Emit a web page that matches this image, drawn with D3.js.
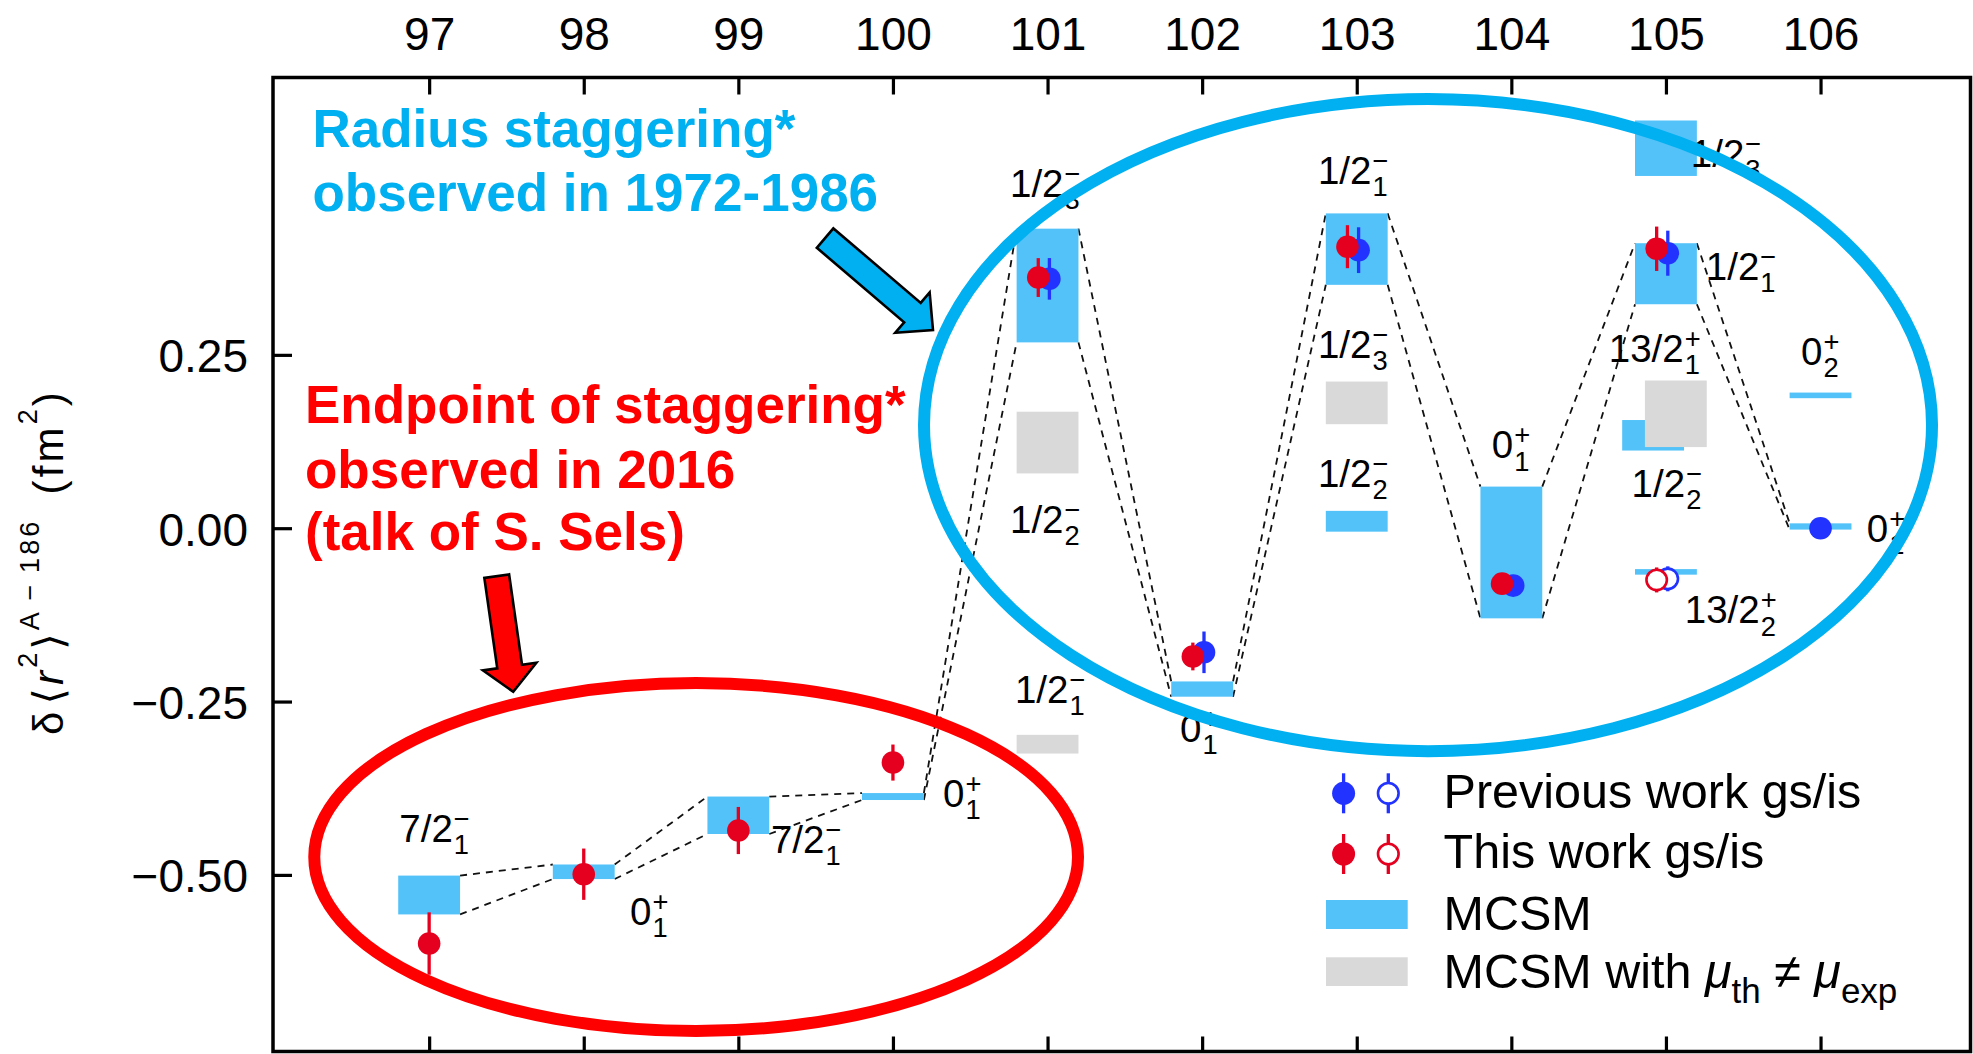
<!DOCTYPE html>
<html>
<head>
<meta charset="utf-8">
<script src="https://cdnjs.cloudflare.com/ajax/libs/d3/7.8.5/d3.min.js"></script>
<style>
  html, body { margin: 0; padding: 0; background: #fff; }
  svg { display: block; }
  text { font-family: "Liberation Sans", Arial, Helvetica, sans-serif; fill: #000; }
</style>
</head>
<body>
<svg id="chart" width="1973" height="1054"></svg>
<script>
// ---- data -------------------------------------------------------------
// neutron numbers on the top axis, and the radius-change ticks on the left axis
const neutronTicks = [97, 98, 99, 100, 101, 102, 103, 104, 105, 106];
const radiusTicks = [-0.5, -0.25, 0, 0.25];

// MCSM states forming the staggering chain (linked by dashed lines)
const chainN  = [97, 98, 99, 100, 101, 102, 103, 104, 105, 106];
const chainLo = [-0.557, -0.506, -0.441, -0.392, 0.268, -0.243, 0.351, -0.130, 0.323, -0.002];
const chainHi = [-0.501, -0.485, -0.387, -0.382, 0.432, -0.221, 0.454, 0.060, 0.411, 0.007];

// further MCSM states
const extraN  = [103, 105, 105, 105, 106];
const extraLo = [-0.005, 0.508, 0.112, -0.067, 0.1875];
const extraHi = [0.025, 0.588, 0.156, -0.059, 0.1956];

// MCSM states with mu_th != mu_exp
const grayN  = [101, 101, 103, 105];
const grayLo = [0.079, -0.325, 0.150, 0.117];
const grayHi = [0.168, -0.298, 0.2115, 0.213];

// this work: ground states and isomer
const thisN = [97, 98, 99, 100, 101, 102, 103, 104, 105];
const thisV = [-0.599, -0.499, -0.436, -0.338, 0.3615, -0.185, 0.406, -0.080, 0.403];
const thisE = [0.045, 0.037, 0.034, 0.026, 0.028, 0.020, 0.031, 0.010, 0.032];
const thisIsoN = [105];
const thisIsoV = [-0.0746];
const thisIsoE = [0.018];

// previous work: ground states and isomer
const prevN = [101, 102, 103, 104, 105, 106];
const prevV = [0.3596, -0.179, 0.401, -0.0828, 0.3966, 0.0];
const prevE = [0.030, 0.030, 0.033, 0.010, 0.0325, 0.008];
const prevIsoN = [105];
const prevIsoV = [-0.073];
const prevIsoE = [0.018];

// state labels: spin/parity, index, sign
const stateJ   = ["7/2", "0", "7/2", "0", "1/2", "1/2", "1/2", "0", "1/2", "1/2", "1/2", "0", "1/2", "1/2", "13/2", "1/2", "13/2", "0", "0"];
const stateSub = ["1", "1", "1", "1", "3", "2", "1", "1", "1", "3", "2", "1", "3", "1", "1", "2", "2", "2", "1"];
const stateSup = ["\u2212", "+", "\u2212", "+", "\u2212", "\u2212", "\u2212", "+", "\u2212", "\u2212", "\u2212", "+", "\u2212", "\u2212", "+", "\u2212", "+", "+", "+"];
// label anchors (neutron number, radius change) for the text start / baseline
const stateAt = [
  [96.807, -0.4523], [98.299, -0.5724], [99.211, -0.4686], [100.324, -0.4018],
  [100.757, 0.4779], [100.757, -0.0071], [100.789, -0.2522], [101.857, -0.3080],
  [102.749, 0.4963], [102.749, 0.2453], [102.749, 0.0597], [103.873, 0.1007],
  [105.161, 0.5212], [105.258, 0.3578], [104.630, 0.2400], [104.778, 0.0453],
  [105.122, -0.1373], [105.874, 0.2352], [106.299, -0.0196]
];

// ---- layout -----------------------------------------------------------
const W = 1973, H = 1054;
const plot = { left: 273, right: 1970.5, top: 77.5, bottom: 1051.5 };
const BOX_W = 0.4;          // width of a theory box, in neutron-number units
const RED_SHIFT = -0.06;    // small horizontal dodge when both data sets exist
const BLUE_SHIFT = 0.012;

const C = {
  mcsm: "#52C2F9",
  gray: "#D9D9D9",
  red: "#E6001F",
  blue: "#2233FF",
  annBlue: "#00B0F0",
  annRed: "#FF0000"
};

const svg = d3.select("#chart");
svg.append("rect").attr("width", W).attr("height", H).attr("fill", "#fff");

const x = d3.scaleLinear().domain([95.99, 106.97]).range([plot.left, plot.right]);
const y = d3.scaleLinear().domain([-0.7547, 0.650]).range([plot.bottom, plot.top]);

const gPlot = svg.append("g");

// ---- dashed connectors between successive chain boxes -------------------
const gLinks = gPlot.append("g").attr("fill", "none").attr("stroke", "#111")
  .attr("stroke-width", 1.8).attr("stroke-dasharray", "7,6");
for (let i = 0; i < chainN.length - 1; i++) {
  const xa = x(chainN[i] + BOX_W / 2), xb = x(chainN[i + 1] - BOX_W / 2);
  gLinks.append("line").attr("x1", xa).attr("y1", y(chainHi[i])).attr("x2", xb).attr("y2", y(chainHi[i + 1]));
  gLinks.append("line").attr("x1", xa).attr("y1", y(chainLo[i])).attr("x2", xb).attr("y2", y(chainLo[i + 1]));
}

// ---- theory boxes -------------------------------------------------------
function overlaps(lo1, hi1, lo2, hi2) { return lo1 < hi2 && lo2 < hi1; }

const blueBoxes = chainN.map((n, i) => ({ n, lo: chainLo[i], hi: chainHi[i], dx: 0 }))
  .concat(extraN.map((n, i) => ({ n, lo: extraLo[i], hi: extraHi[i], dx: 0 })));
const grayBoxes = grayN.map((n, i) => ({ n, lo: grayLo[i], hi: grayHi[i], dx: 0 }));
// dodge overlapping blue / gray boxes at the same neutron number
grayBoxes.forEach(g => {
  blueBoxes.forEach(b => {
    if (b.n === g.n && overlaps(b.lo, b.hi, g.lo, g.hi)) { b.dx = -0.083; g.dx = 0.064; }
  });
});

function drawBoxes(data, fill) {
  gPlot.append("g").selectAll("rect").data(data).join("rect")
    .attr("x", d => x(d.n + d.dx - BOX_W / 2))
    .attr("width", d => x(d.n + BOX_W / 2) - x(d.n - BOX_W / 2))
    .attr("y", d => y(d.hi))
    .attr("height", d => y(d.lo) - y(d.hi))
    .attr("fill", fill);
}
drawBoxes(blueBoxes, C.mcsm);
drawBoxes(grayBoxes, C.gray);

// ---- state labels (J with stacked index and parity) ---------------------
const gLab = gPlot.append("g");
function jLabel(g, px, py, j, sub, sup) {
  const s = 38.5, ss = s * 0.71;
  const subDy = s * 0.32, supDy = s * 0.37;
  const t = g.append("text").attr("x", px).attr("y", py).attr("font-size", s);
  t.append("tspan").text(j);
  const tsub = t.append("tspan").attr("dx", 1).attr("dy", subDy).attr("font-size", ss).text(sub);
  const subW = tsub.node().getComputedTextLength();
  t.append("tspan").attr("dx", -subW).attr("dy", -(subDy + supDy)).attr("font-size", ss).text(sup);
}
stateJ.forEach((j, i) => {
  jLabel(gLab, x(stateAt[i][0]), y(stateAt[i][1]), j, stateSub[i], stateSup[i]);
});

// ---- measured points ----------------------------------------------------
function drawPoints(ns, vs, es, color, filled, shift) {
  const g = gPlot.append("g");
  ns.forEach((n, i) => {
    const px = x(n + shift(n));
    g.append("line").attr("x1", px).attr("x2", px)
      .attr("y1", y(vs[i] + es[i])).attr("y2", y(vs[i] - es[i]))
      .attr("stroke", color).attr("stroke-width", 3.3);
    g.append("circle").attr("cx", px).attr("cy", y(vs[i]))
      .attr("r", filled ? 11.3 : 10.2)
      .attr("fill", filled ? color : "#fff")
      .attr("stroke", color).attr("stroke-width", filled ? 0 : 2.6);
  });
}
const both = new Set(thisN.filter(n => prevN.includes(n)));
const bothIso = new Set(thisIsoN.filter(n => prevIsoN.includes(n)));
drawPoints(prevN, prevV, prevE, C.blue, true, n => both.has(n) ? BLUE_SHIFT : 0);
drawPoints(thisN, thisV, thisE, C.red, true, n => both.has(n) ? RED_SHIFT : 0);
drawPoints(prevIsoN, prevIsoV, prevIsoE, C.blue, false, n => bothIso.has(n) ? BLUE_SHIFT : 0);
drawPoints(thisIsoN, thisIsoV, thisIsoE, C.red, false, n => bothIso.has(n) ? RED_SHIFT : 0);

// ---- legend -------------------------------------------------------------
const gLeg = svg.append("g");
function legMarker(cx, cy, color, filled) {
  gLeg.append("line").attr("x1", cx).attr("x2", cx).attr("y1", cy - 20).attr("y2", cy + 20)
    .attr("stroke", color).attr("stroke-width", 3.3);
  gLeg.append("circle").attr("cx", cx).attr("cy", cy).attr("r", filled ? 11.5 : 10.3)
    .attr("fill", filled ? color : "#fff").attr("stroke", color).attr("stroke-width", filled ? 0 : 2.6);
}
legMarker(1343.6, 793.3, C.blue, true);
legMarker(1388.3, 793.3, C.blue, false);
legMarker(1343.6, 854, C.red, true);
legMarker(1388.3, 854, C.red, false);
gLeg.append("rect").attr("x", 1326).attr("y", 900).attr("width", 81.7).attr("height", 29).attr("fill", C.mcsm);
gLeg.append("rect").attr("x", 1326).attr("y", 957.3).attr("width", 81.7).attr("height", 28.7).attr("fill", C.gray);
const LEG_FS = 48.5;
gLeg.append("text").attr("x", 1443.6).attr("y", 808.3).attr("font-size", LEG_FS).text("Previous work gs/is");
gLeg.append("text").attr("x", 1443.6).attr("y", 868.3).attr("font-size", LEG_FS).text("This work gs/is");
gLeg.append("text").attr("x", 1443.6).attr("y", 930).attr("font-size", LEG_FS).text("MCSM");
const lt = gLeg.append("text").attr("x", 1443.6).attr("y", 988.3).attr("font-size", LEG_FS);
lt.append("tspan").text("MCSM with ");
lt.append("tspan").attr("font-style", "italic").text("\u03BC");
lt.append("tspan").attr("font-size", 35).attr("dy", 15).text("th");
lt.append("tspan").attr("dy", -15).text(" \u2260 ");
lt.append("tspan").attr("font-style", "italic").text("\u03BC");
lt.append("tspan").attr("font-size", 35).attr("dy", 15).text("exp");

// ---- annotations: ellipses, arrows, notes -------------------------------
const gAnn = svg.append("g");
function ellipse(cn, cv, rn, rv, color) {
  gAnn.append("ellipse")
    .attr("cx", x(cn)).attr("cy", y(cv))
    .attr("rx", x(cn + rn) - x(cn)).attr("ry", y(cv - rv) - y(cv))
    .attr("fill", "none").attr("stroke", color).attr("stroke-width", 12);
}
ellipse(103.461, 0.1487, 3.260, 0.4702, C.annBlue);
ellipse(98.727, -0.4743, 2.470, 0.2509, C.annRed);

function arrow(tail, tip, shaftW, headW, headL, fill) {
  const t = [x(tail[0]), y(tail[1])], h = [x(tip[0]), y(tip[1])];
  const dx = h[0] - t[0], dy = h[1] - t[1], L = Math.hypot(dx, dy);
  const ux = dx / L, uy = dy / L, nx = -uy, ny = ux;
  const b = [h[0] - ux * headL, h[1] - uy * headL];
  const pts = [
    [t[0] + nx * shaftW / 2, t[1] + ny * shaftW / 2],
    [b[0] + nx * shaftW / 2, b[1] + ny * shaftW / 2],
    [b[0] + nx * headW / 2, b[1] + ny * headW / 2],
    h,
    [b[0] - nx * headW / 2, b[1] - ny * headW / 2],
    [b[0] - nx * shaftW / 2, b[1] - ny * shaftW / 2],
    [t[0] - nx * shaftW / 2, t[1] - ny * shaftW / 2]
  ];
  gAnn.append("polygon").attr("points", pts.map(p => p.join(",")).join(" "))
    .attr("fill", fill).attr("stroke", "#000").attr("stroke-width", 2.6).attr("stroke-linejoin", "miter");
}
arrow([99.561, 0.4184], [100.259, 0.2857], 25.5, 53, 27, C.annBlue);
arrow([97.437, -0.0691], [97.544, -0.2359], 25, 54, 25.5, C.annRed);

function note(lines, n, vs, color) {
  lines.forEach((s, i) => {
    gAnn.append("text").attr("x", x(n)).attr("y", y(vs[i]))
      .attr("font-size", 53).attr("font-weight", "bold").style("fill", color).text(s);
  });
}
note(["Radius staggering*", "observed in 1972-1986"], 96.245, [0.550, 0.4577], C.annBlue);
note(["Endpoint of staggering*", "observed in 2016", "(talk of S. Sels)"], 96.197, [0.1511, 0.0584, -0.0316], C.annRed);

// ---- axes and frame -----------------------------------------------------
const gTop = svg.append("g").attr("transform", `translate(0,${plot.top})`)
  .call(d3.axisTop(x).tickValues(neutronTicks).tickSize(-17).tickPadding(27.5).tickFormat(d3.format("d")));
const gBot = svg.append("g").attr("transform", `translate(0,${plot.bottom})`)
  .call(d3.axisBottom(x).tickValues(neutronTicks).tickSize(-15).tickFormat(""));
const gLeft = svg.append("g").attr("transform", `translate(${plot.left},0)`)
  .call(d3.axisLeft(y).tickValues(radiusTicks).tickSize(-19).tickPadding(25).tickFormat(d3.format(".2f")));
[gTop, gBot, gLeft].forEach(g => {
  g.select(".domain").remove();
  g.selectAll(".tick line").attr("stroke", "#000").attr("stroke-width", 3.2);
  g.selectAll(".tick text").attr("font-size", 46).attr("fill", "#000")
    .attr("font-family", "'Liberation Sans', Arial, sans-serif");
});
gLeft.selectAll(".tick text").attr("dy", "0.37em");

svg.append("rect").attr("x", plot.left).attr("y", plot.top)
  .attr("width", plot.right - plot.left).attr("height", plot.bottom - plot.top)
  .attr("fill", "none").attr("stroke", "#000").attr("stroke-width", 3.5);

// ---- y-axis title: δ⟨r²⟩^(A−186) (fm²), reading bottom to top -------------
const TITLE_FROM = 735, TITLE_TO = 393;   // vertical extent of the title
const yl = svg.append("text")
  .attr("transform", `translate(63,${TITLE_FROM}) rotate(-90)`)
  .attr("font-size", 42);
yl.append("tspan").text("\u03B4");
yl.append("tspan").attr("dx", 4).attr("font-family", "DejaVu Sans").attr("font-size", 42).text("\u27E8");
yl.append("tspan").attr("font-style", "italic").attr("font-size", 42).text("r");
yl.append("tspan").attr("font-size", 27).attr("dy", -26).text("2");
yl.append("tspan").attr("font-size", 42).attr("dy", 26).attr("font-family", "DejaVu Sans").text("\u27E9");
yl.append("tspan").attr("font-size", 27).attr("dy", -24).text("A\u2009\u2212\u2009186");
yl.append("tspan").attr("font-size", 42).attr("dy", 24).text("\u2002(fm");
yl.append("tspan").attr("font-size", 27).attr("dy", -26).text("2");
yl.append("tspan").attr("font-size", 42).attr("dy", 26).text(")");
// spread the glyphs so the title spans its full extent
{
  const L = yl.node().getComputedTextLength();
  const nChars = yl.text().length;
  const extra = (TITLE_FROM - TITLE_TO) - L;
  if (extra > 0) yl.attr("letter-spacing", extra / nChars);
}
</script>
</body>
</html>
